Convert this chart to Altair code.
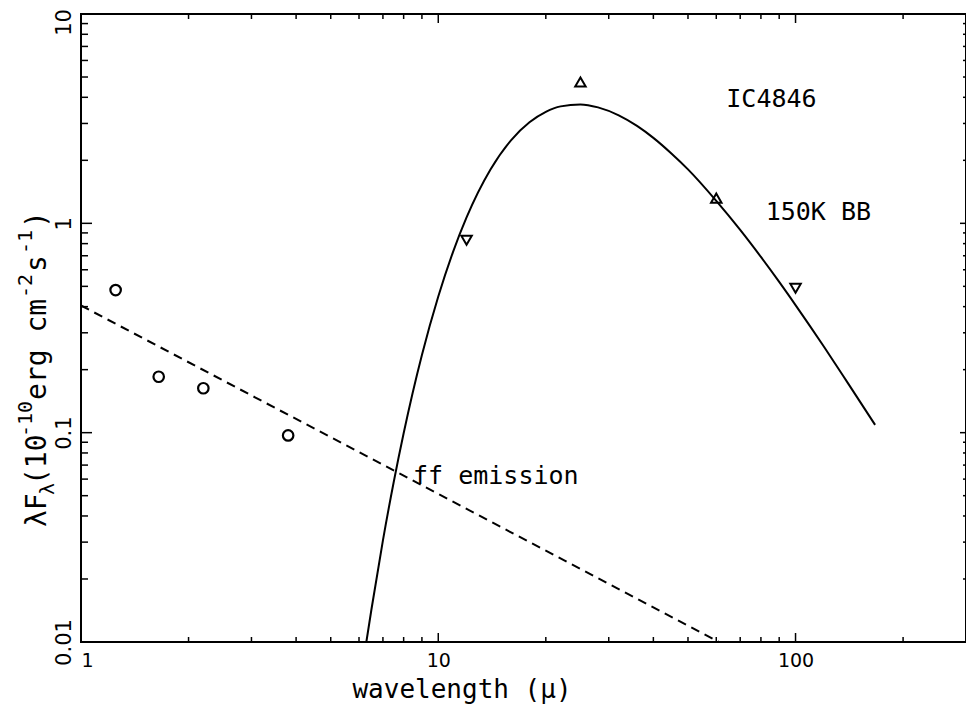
import altair as alt
import pandas as pd

# ---- data ----
nir_wl = [1.25, 1.65, 2.2, 3.8]
nir_flux = [0.48, 0.185, 0.163, 0.097]

iras_up_wl = [25, 60]
iras_up_flux = [4.73, 1.32]
iras_dn_wl = [12, 100]
iras_dn_flux = [0.83, 0.49]

bb_wl = [6.29, 6.5, 7, 7.5, 8, 9, 10, 11, 12, 14, 16, 18, 20, 22, 25, 28, 32,
         36, 40, 45, 50, 60, 70, 80, 90, 100, 120, 140, 167]
bb_flux = [0.0100, 0.0143, 0.0306, 0.0578, 0.0993, 0.235, 0.447, 0.731, 1.067,
           1.807, 2.50, 3.04, 3.41, 3.62, 3.70, 3.58, 3.28, 2.92, 2.56, 2.15,
           1.81, 1.28, 0.930, 0.691, 0.525, 0.407, 0.258, 0.173, 0.109]

ff_wl = [1.0, 61]
ff_flux = [0.405, 0.0100]

note_text = ["IC4846", "150K BB", "ff emission"]
note_wl = [64, 82.5, 8.5]
note_flux = [3.92, 1.13, 0.062]

x_major = [1, 10, 100]
x_minor = [2, 3, 4, 5, 6, 7, 8, 9, 20, 30, 40, 50, 60, 70, 80, 90, 200]
y_major = [0.01, 0.1, 1, 10]
y_minor = [0.02, 0.03, 0.04, 0.05, 0.06, 0.07, 0.08, 0.09,
           0.2, 0.3, 0.4, 0.5, 0.6, 0.7, 0.8, 0.9,
           2, 3, 4, 5, 6, 7, 8, 9]

W, H = 885, 628
TXT = "DejaVu Sans Mono"
NUM = "Liberation Sans Narrow, DejaVu Sans"

xs = alt.Scale(type="log", domain=[1, 300], nice=False)
ys = alt.Scale(type="log", domain=[0.01, 10], nice=False)

xaxis = alt.Axis(values=x_major, format="~g", title=None, grid=False, domain=False,
                 ticks=False, tickSize=0, labelFont=NUM, labelFontSize=19,
                 labelColor="black", labelPadding=9, labelBaseline="top")
yaxis = alt.Axis(values=y_major, format="~g", title=None, grid=False, domain=False,
                 ticks=False, tickSize=0, labelFont=NUM, labelFontSize=21,
                 labelColor="black", labelAngle=270, labelAlign="center",
                 labelBaseline="alphabetic", labelPadding=11,
                 labelOffset={"condition": {"test": "datum.value >= 10", "value": 8},
                              "value": 0})


def X(f):
    return alt.X(f, type="quantitative", scale=xs, axis=xaxis)


def Y(f):
    return alt.Y(f, type="quantitative", scale=ys, axis=yaxis)


bb = alt.Chart(pd.DataFrame({"wl": bb_wl, "f": bb_flux})).mark_line(
    color="black", strokeWidth=2, interpolate="monotone").encode(x=X("wl"), y=Y("f"))

ff = alt.Chart(pd.DataFrame({"wl": ff_wl, "f": ff_flux})).mark_line(
    color="black", strokeWidth=2, strokeDash=[9, 6]).encode(x=X("wl"), y=Y("f"))

nir = alt.Chart(pd.DataFrame({"wl": nir_wl, "f": nir_flux})).mark_point(
    shape="circle", filled=False, color="black", strokeWidth=2.2, size=110, opacity=1
).encode(x=X("wl"), y=Y("f"))

up = alt.Chart(pd.DataFrame({"wl": iras_up_wl, "f": iras_up_flux})).mark_point(
    shape="triangle-up", filled=False, color="black", strokeWidth=2, size=110, opacity=1
).encode(x=X("wl"), y=Y("f"))

dn = alt.Chart(pd.DataFrame({"wl": iras_dn_wl, "f": iras_dn_flux})).mark_point(
    shape="triangle-down", filled=False, color="black", strokeWidth=2, size=110, opacity=1
).encode(x=X("wl"), y=Y("f"))

notes = alt.Chart(pd.DataFrame({"wl": note_wl, "f": note_flux, "t": note_text})).mark_text(
    font=TXT, fontSize=25, align="left", baseline="middle", color="black"
).encode(x=X("wl"), y=Y("f"), text="t:N")


def xticks(vals, y0, y1):
    return alt.Chart(pd.DataFrame({"v": vals})).mark_rule(color="black", strokeWidth=1.5).encode(
        x=X("v"), y=alt.value(y0), y2=alt.value(y1))


def yticks(vals, x0, x1):
    return alt.Chart(pd.DataFrame({"v": vals})).mark_rule(color="black", strokeWidth=1.5).encode(
        y=Y("v"), x=alt.value(x0), x2=alt.value(x1))


ticks = [
    xticks(x_major, H, H - 9), xticks(x_minor, H, H - 5),
    xticks(x_major, 0, 9), xticks(x_minor, 0, 5),
    yticks(y_major, 0, 11), yticks(y_minor, 0, 7),
    yticks(y_major, W, W - 6), yticks(y_minor, W, W - 3),
]

# x axis title
xtitle = alt.Chart(pd.DataFrame({"t": ["wavelength (μ)"]})).mark_text(
    font=TXT, fontSize=26, align="center", baseline="middle", color="black"
).encode(x=alt.value(381), y=alt.value(676), text="t:N")

# y axis title assembled from pieces (sub/superscripts)
ytitle_parts = ["λF", "λ", "(10", "-10", "erg cm", "-2", "s", "-1", ")"]
ytitle_x = [38, 48, 38, 26, 38, 26, 38, 26, 38]
ytitle_y = [527, 495, 485, 437, 400, 298, 272, 254, 228]
ytitle_size = [28, 20, 28, 20, 28, 20, 28, 20, 28]

ylayers = []
for t, px, py, s in zip(ytitle_parts, ytitle_x, ytitle_y, ytitle_size):
    ylayers.append(
        alt.Chart(pd.DataFrame({"t": [t]})).mark_text(
            font=TXT, fontSize=s, angle=270, align="left", baseline="middle", color="black"
        ).encode(x=alt.value(px - 81), y=alt.value(py - 14), text="t:N")
    )

chart = alt.layer(bb, ff, nir, up, dn, notes, *ticks, xtitle, *ylayers).properties(
    width=W, height=H,
    padding={"left": 73, "top": 6, "right": 0, "bottom": 66},
    autosize=alt.AutoSizeParams(type="none"),
).configure(
    background="white",
    view=alt.ViewConfig(stroke="black", strokeWidth=2),
)

chart.save("out.html", embed_options={"renderer": "svg", "actions": False})
